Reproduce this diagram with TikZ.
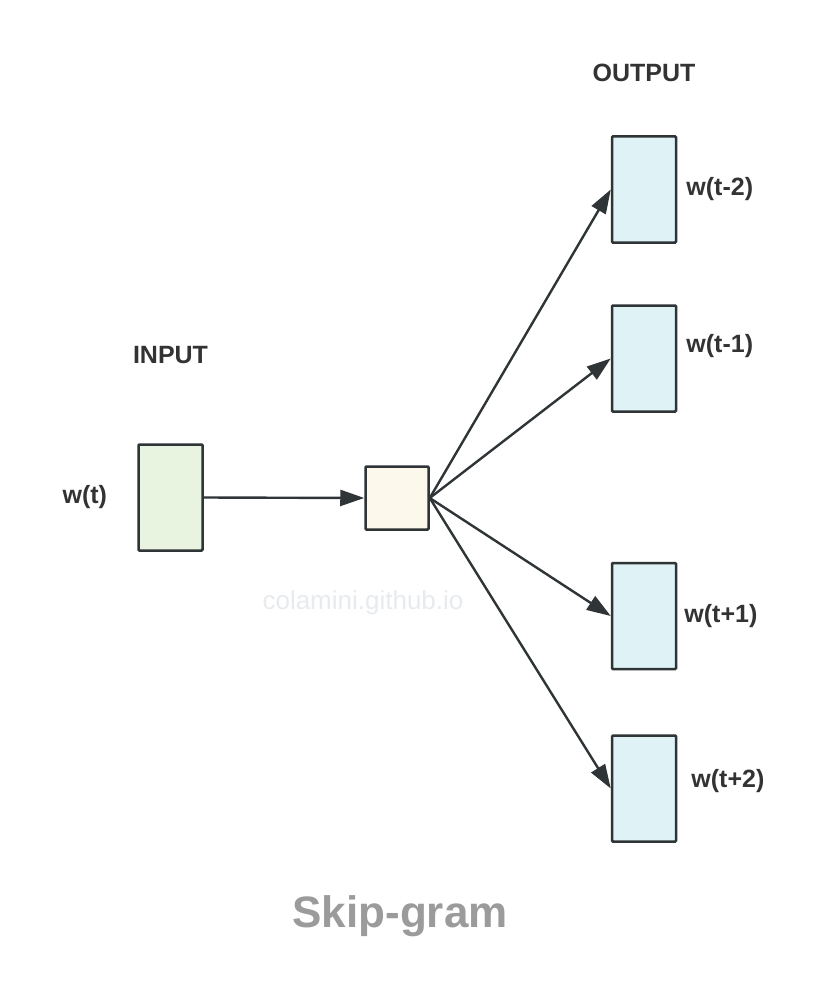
\documentclass[tikz,border=0pt]{standalone}
\usepackage{fontspec}
\setmainfont{Liberation Sans}
\usepackage{tikz}
\usetikzlibrary{arrows.meta,positioning}
\definecolor{edgegray}{HTML}{2F3437}
\definecolor{ingreen}{HTML}{E8F4DF}
\definecolor{hidcream}{HTML}{FCF8EB}
\definecolor{outblue}{HTML}{DFF3F6}
\definecolor{labgray}{HTML}{333333}
\definecolor{titlegray}{HTML}{9B9B9B}
\definecolor{markgray}{HTML}{E8EBEE}
\tikzset{vecbox/.style={draw=edgegray,line width=2.5pt,inner sep=0pt,minimum width=64pt,minimum height=106pt,rounded corners=1pt}}
\begin{document}
\begin{tikzpicture}[x=1pt,y=-1pt,
  lab/.style={font=\fontsize{25}{30}\selectfont\bfseries,text=labgray,inner sep=0pt},
  link/.style={draw=edgegray,line width=2.4pt,-{Triangle[length=24pt,width=16pt]}}]
\useasboundingbox[fill=white] (0,0) rectangle (838,1008);
% vectors
\node[vecbox,fill=ingreen] (in) at (170.5,497.5) {};
\node[vecbox,fill=hidcream,minimum width=63pt,minimum height=63pt] (hid) at (397,498) {};
\node[vecbox,fill=outblue] (o1) at (644,189.5) {};
\node[vecbox,fill=outblue] (o2) at (644,358.5) {};
\node[vecbox,fill=outblue] (o3) at (644,616) {};
\node[vecbox,fill=outblue] (o4) at (644,788.5) {};
% connectors
\draw[link] (in.east) -- (hid.west);
\foreach \o in {o1,o2,o3,o4} \draw[link] (hid.east) -- (\o.west);
% labels
\node[lab,left=30pt of in] (lin) {w(t)};
\node[lab,above=79pt of in] (tin) {INPUT};
\node[lab,above=53pt of o1] (tout) {OUTPUT};
\node[lab,right=9pt of o1] (l1) {w(t-2)};
\node[lab,right=9pt of o2,yshift=12pt] (l2) {w(t-1)};
\node[lab,right=7pt of o3] (l3) {w(t+1)};
\node[lab,right=14pt of o4,yshift=7pt] (l4) {w(t+2)};
\node[font=\fontsize{26}{30}\selectfont,text=markgray] (mark) at (363,603) {colamini.github.io};
\node[font=\fontsize{44}{50}\selectfont\bfseries,text=titlegray] (title) at (400,916) {Skip-gram};
\end{tikzpicture}
\end{document}
